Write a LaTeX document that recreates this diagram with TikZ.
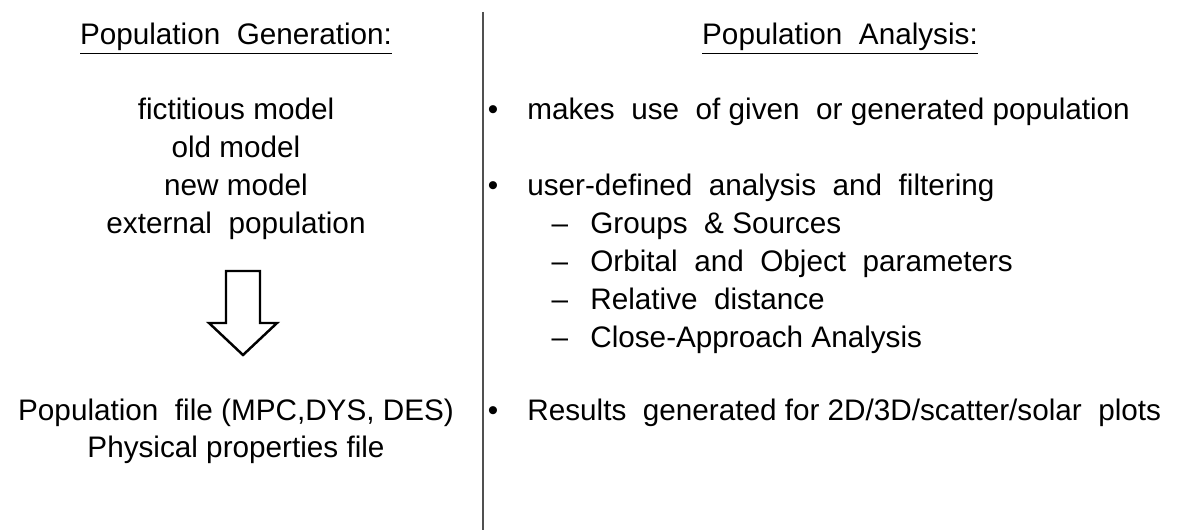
\documentclass[tikz,border=0pt]{standalone}
\usepackage{fontspec}
\setmainfont{Liberation Sans}
\usepackage{xcolor}
\usetikzlibrary{calc}
\definecolor{ink}{HTML}{000000}
\definecolor{rule}{HTML}{505050}
\tikzset{
  txt/.style={text=ink, font=\fontsize{16.9}{20}\selectfont, inner sep=0pt, anchor=base},
  txtl/.style={txt, anchor=base west},
  sep/.style={draw=rule, line width=1.1pt},
  bigarrow/.style={draw=ink, fill=white, line width=1.4pt, line join=miter},
}

\begin{document}
\begin{tikzpicture}[x=0.02cm, y=-0.02cm]
  \useasboundingbox (0,0) rectangle (1183,530);
  \def\dy{37.8}

  % divider
  \coordinate (top) at (483,12);
  \coordinate (bot) at (483,530);
  \draw[sep] (top) -- (bot);

  % left column
  \node[txt] (gen) at (236,45) {\underline{Population\ \ Generation:}};
  \node[txt] (fict) at (236,120) {fictitious model};
  \node[txt] (old) at (236,120+\dy) {old model};
  \node[txt] (new) at (236,120+2*\dy) {new model};
  \node[txt] (ext) at (236,120+3*\dy) {external\ \ population};

  \coordinate (ar) at (243,271); % top centre of arrow
  \draw[bigarrow] ($(ar)+(-17,0)$) -- ($(ar)+(17,0)$) -- ($(ar)+(17,52)$)
    -- ($(ar)+(34,52)$) -- ($(ar)+(0,84)$) -- ($(ar)+(-34,52)$)
    -- ($(ar)+(-17,52)$) -- cycle;

  \node[txt] (pfile) at (236,420) {Population\ \ file (MPC,DYS, DES)};
  \node[txt] (phys) at (236,420+\dy) {Physical properties file};

  % right column
  \node[txt] (ana) at (840,45) {\underline{Population\ \ Analysis:}};
  \node[txt] (b1) at (493,120) {\textbullet};
  \node[txtl] (use) at (527,120) {makes\ \ use\ \ of given\ \ or generated population};
  \node[txt] (b2) at (493,196) {\textbullet};
  \node[txtl] (udef) at (527,196) {user-defined\ \ analysis\ \ and\ \ filtering};
  \foreach \t [count=\i] in {Groups\ \ \&\ Sources, Orbital\ \ and\ \ Object\ \ parameters,
                              Relative\ \ distance, Close-Approach Analysis}{
    \node[txt] (d\i) at (560,196+\i*\dy) {--};
    \node[txtl] (s\i) at (590,196+\i*\dy) {\t};
  }
  \node[txt] (b3) at (493,420) {\textbullet};
  \node[txtl] (res) at (527,420) {Results\ \ generated for 2D/3D/scatter/solar\ \ plots};
\end{tikzpicture}
\end{document}
